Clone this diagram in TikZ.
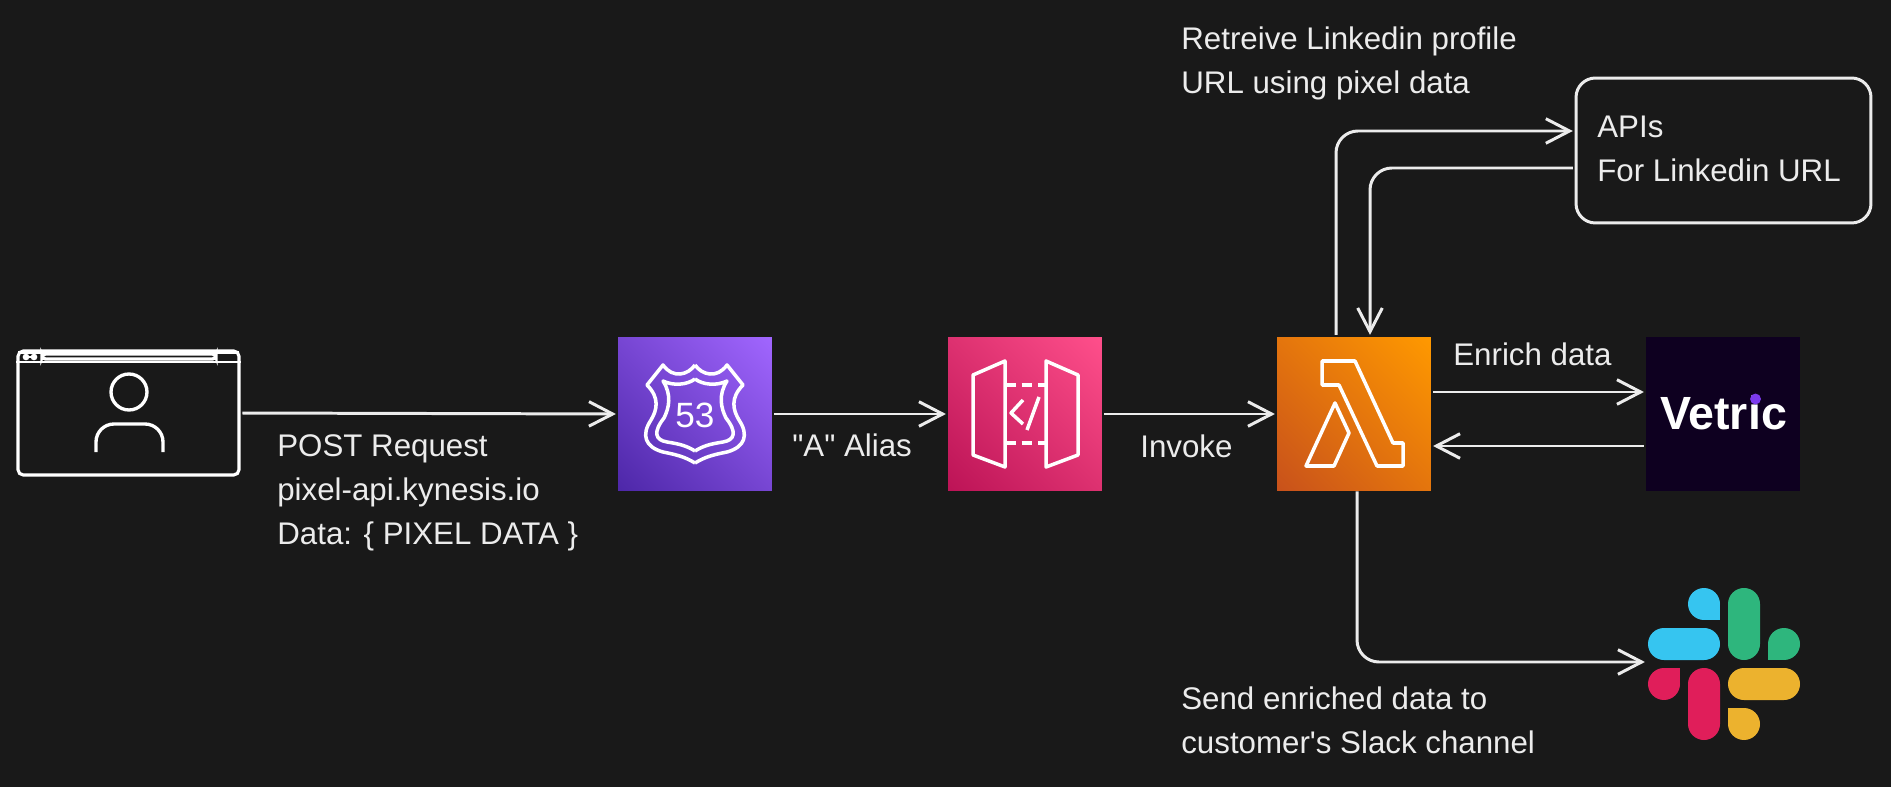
\documentclass[tikz,border=0pt]{standalone}
\usepackage{fontspec}
\setmainfont{Liberation Sans}
\usepackage{xcolor}
\usepackage{tikz}
\usetikzlibrary{arrows.meta}
\usetikzlibrary{calc}
\usetikzlibrary{shadings}
\definecolor{canvas}{HTML}{191919}
\definecolor{ink}{HTML}{ECECEC}
\definecolor{vetricbg}{HTML}{0E0020}
\definecolor{vetricdot}{HTML}{7C3AED}
\definecolor{routelo}{HTML}{4D27A8}
\definecolor{routemid}{HTML}{7746D3}
\definecolor{routehi}{HTML}{A166FF}
\definecolor{gatelo}{HTML}{BC1356}
\definecolor{gatemid}{HTML}{DD3170}
\definecolor{gatehi}{HTML}{FF4F8B}
\definecolor{lambdalo}{HTML}{C8511B}
\definecolor{lambdamid}{HTML}{E4750D}
\definecolor{lambdahi}{HTML}{FF9900}
\definecolor{slackblue}{HTML}{36C5F0}
\definecolor{slackgreen}{HTML}{2EB67D}
\definecolor{slackred}{HTML}{E01E5A}
\definecolor{slackyellow}{HTML}{ECB22E}
\newcommand{\labelfont}{\fontsize{17.8}{25}\selectfont}
\tikzset{
  iconbox/.style={minimum size=3.08cm, inner sep=0pt},
  awsbox/.style={iconbox, shade, lower left=#1lo, upper right=#1hi, upper left=#1mid, lower right=#1mid},
  flow/.style={draw=ink, line width=1.7pt, -{Straight Barb[length=13.5pt, width=14pt]},
    shorten <=1pt, shorten >=1pt},
  note/.style={text=ink, font=\labelfont, align=left, anchor=west, inner sep=0pt},
  glyph/.style={draw=white, line width=2pt, line join=round}
}
\begin{document}
\begin{tikzpicture}[x=0.02cm, y=-0.02cm]

    \useasboundingbox (0, 0) rectangle (1891, 787);
    \fill [canvas] (0, 0) rectangle (1891, 787);

    % services
    \node (browser) [draw=white, line width=1.8pt, rounded corners=3pt, minimum width=4.42cm,
      minimum height=2.48cm, inner sep=0pt] at (128.5, 413) {};
    \node (route) [awsbox=route] at (695, 414) {};
    \node (gateway) [awsbox=gate] at (1025, 414) {};
    \node (lambda) [awsbox=lambda] at (1354, 414) {};
    \node (vetric) [iconbox, fill=vetricbg] at (1723, 414) {};
    \node (apis) [draw=ink, line width=1.7pt, rounded corners=11pt, minimum height=2.9cm,
      inner sep=0pt, minimum width=5.9cm] at (1723.5, 150.5) {};
    \node (slack) [iconbox] at (1724, 664) {};

    % browser window
    \draw [white, line width=1pt] (browser.west |- 0, 362) -- (browser.east |- 0, 362);
    \fill [white] (18, 351) rectangle (239, 354);
    \draw [white, line width=1.9pt, rounded corners=2pt] (42, 354) rectangle (216, 359);
    \fill [white] (26, 357) circle (1.9pt) (34, 357) circle (1.9pt);
    \draw [white, line width=1pt] (26, 357) -- (34, 357);
    \draw [white, line width=1.9pt] (129, 392) circle (0.36cm);
    \draw [white, line width=1.9pt, rounded corners=0.36cm] (96, 452) -- (96, 424) -- (163, 424) -- (163, 452);

    % route 53 shield
    \foreach \sx in {1, -1} {
      \begin{scope}[shift={(695, 0)}, xscale=\sx]
        \draw [glyph] (0, 365) .. controls (7, 375) and (22, 379) .. (32, 365) -- (48, 385)
        .. controls (35, 398) and (38, 410) .. (44, 420)
        .. controls (54, 435) and (50, 447) .. (32, 452)
        .. controls (17, 455) and (10, 457) .. (0, 463);
        \draw [glyph] (0, 379) .. controls (8, 385) and (22, 386) .. (32, 381)
        .. controls (23, 395) and (26, 408) .. (31, 418)
        .. controls (42, 432) and (40, 440) .. (28, 442)
        .. controls (15, 444) and (8, 446) .. (0, 451);
      \end{scope}
    }
    \node (fiftythree) [text=white, font=\fontsize{20}{20}\selectfont, inner sep=0pt] at (695, 415) {53};

    % gateway panels
    \draw [glyph] (1005, 361) -- (973, 375) -- (973, 455) -- (1005, 467) -- cycle;
    \draw [glyph] (1046, 361) -- (1078, 375) -- (1078, 455) -- (1046, 467) -- cycle;
    \draw [glyph, dash pattern=on 6pt off 3.5pt] (1005, 385) -- (1046, 385);
    \draw [glyph, dash pattern=on 6pt off 3.5pt] (1005, 443) -- (1046, 443);
    \draw [glyph] (1023, 400) -- (1011, 413) -- (1023, 424);
    \draw [glyph] (1039, 397) -- (1027, 430);

    % lambda
    \draw [glyph] (1322, 361) -- (1355, 361) -- (1393, 443) -- (1403, 443) -- (1403, 466)
    -- (1377, 466) -- (1339, 385) -- (1322, 385) -- cycle;
    \draw [glyph] (1335, 403) -- (1349, 433) -- (1334, 466) -- (1306, 466) -- cycle;

    % vetric logo
    \node (vetricname) [text=white, anchor=base, font=\bfseries\fontsize{26.5}{26.5}\selectfont, inner sep=0pt]
    at (1723.5, 429) {Vetric};
    \fill [vetricdot] (1755.5, 399) circle (3.1pt);

    % slack logo
    \foreach \xa/\ya/\xb/\yb/\col in {1648/628/1720/660/slackblue, 1728/588/1760/660/slackgreen,
      1688/668/1720/740/slackred, 1728/668/1800/700/slackyellow} {
      \fill [\col, rounded corners=0.319cm] (\xa, \ya) rectangle (\xb, \yb);
    }
    \foreach \cx/\cy/\qx/\qy/\col in {1704/604/1720/620/slackblue, 1784/644/1768/660/slackgreen,
      1664/684/1680/668/slackred, 1744/724/1728/708/slackyellow} {
      \fill [\col] (\cx, \cy) circle (0.32cm);
      \fill [\col] (\cx, \cy) rectangle (\qx, \qy);
    }

    % connectors
    \coordinate (enrichhi) at (0, 392);
    \coordinate (enrichlo) at (0, 446);
    \coordinate (upline) at (1336, 131);
    \coordinate (downline) at (1370, 168);
    \coordinate (slackline) at (1357, 662);

    \draw [flow] (browser.east) -- (route.west);
    \draw [flow] (route.east) -- (gateway.west);
    \draw [flow] (gateway.east) -- (lambda.west);
    \draw [flow] (lambda.east |- enrichhi) -- (vetric.west |- enrichhi);
    \draw [flow] (vetric.west |- enrichlo) -- (lambda.east |- enrichlo);
    \draw [flow, rounded corners=12.5pt] (lambda.north -| upline) |- (apis.west |- upline);
    \draw [flow, rounded corners=12.5pt] (apis.west |- downline) -| (lambda.north -| downline);
    \draw [flow, shorten <=0pt, rounded corners=12.5pt] (lambda.south -| slackline) |- (slack.west |- slackline);

    % labels
    \node (apisnote) [note] at (1597, 149) {APIs\\For Linkedin URL};
    \node (retrievenote) [note] at (1181, 63) {Retreive Linkedin profile\\URL using pixel data};
    \node (postnote) [note] at (277, 493) {POST Request\\pixel-api.kynesis.io\\Data: \{ PIXEL DATA \}};
    \node (aliasnote) [note] at (792, 445) {\textquotedbl A\textquotedbl{} Alias};
    \node (invokenote) [note] at (1140, 446) {Invoke};
    \node (enrichnote) [note] at (1453, 354) {Enrich data};
    \node (slacknote) [note] at (1181, 720) {Send enriched data to\\customer\textquotesingle s Slack channel};

  \end{tikzpicture}
\end{document}
